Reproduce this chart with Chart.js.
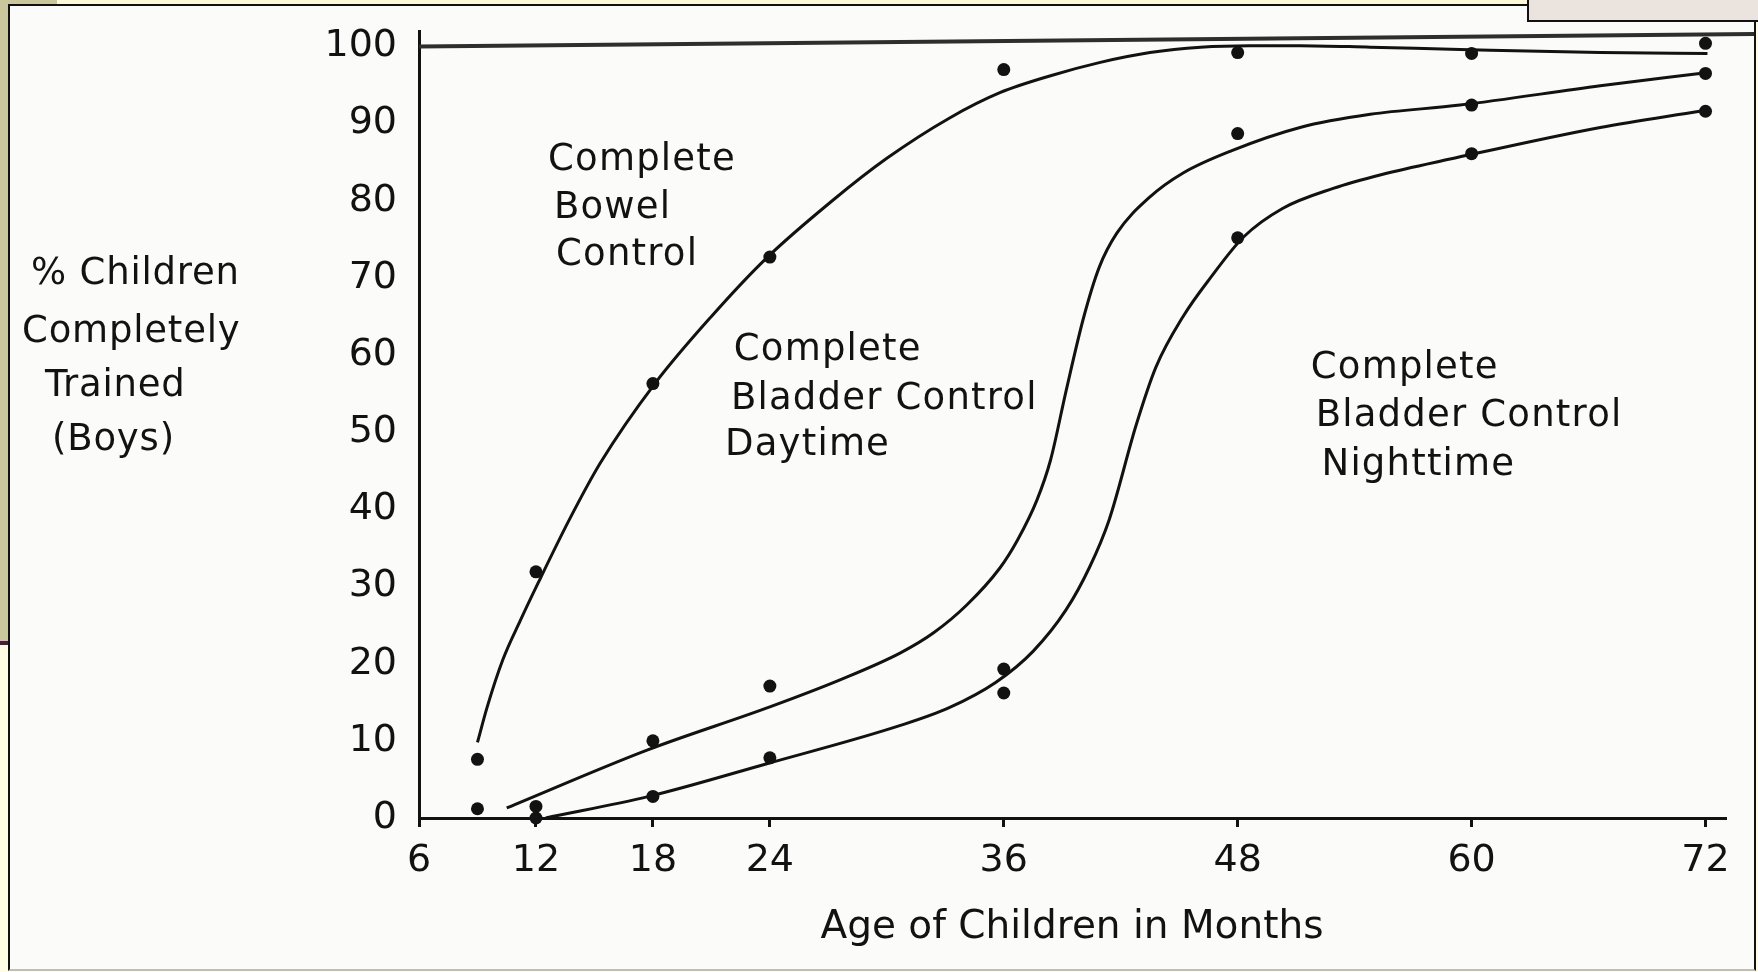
<!DOCTYPE html>
<html lang="en">
<head>
<meta charset="UTF-8">
<title>Toilet Training by Age (Boys)</title>
<script src="https://cdn.jsdelivr.net/npm/chart.js"></script>
<style>
    html, body { margin: 0; padding: 0; }
    body {
        width: 1758px;
        height: 972px;
        position: relative;
        overflow: hidden;
        background: #fffde4;
    }
    .strip { position: absolute; left: 0; top: 0; width: 8px; height: 641px; background: #c9c79b; }
    .strip-line { position: absolute; left: 0; top: 641px; width: 8px; height: 4px; background: #4b1a3e; }
    .corner { position: absolute; left: 0; top: 0; width: 57px; height: 5px; background: #c9c79b; }
    .band { position: absolute; left: 57px; top: 0; width: 1470px; height: 4px; background: #fcf8d8; }
    .sheet {
        position: absolute;
        left: 8px;
        top: 4px;
        width: 1744px;
        height: 963px;
        background: #fbfbf9;
        border-left: 2px solid #111;
        border-top: 2px solid #111;
        border-right: 2px solid #111;
        border-bottom: 2px solid #bdbdbd;
    }
    .tab {
        position: absolute;
        left: 1527px;
        top: 0;
        width: 229px;
        height: 20px;
        background: #ebe4de;
        border-left: 2px solid #111;
        border-bottom: 2px solid #111;
    }
    #trainChart { position: absolute; left: 0; top: 0; }
</style>
</head>
<body>
<div class="strip"></div>
<div class="strip-line"></div>
<div class="corner"></div>
<div class="band"></div>
<div class="sheet"></div>
<div class="tab"></div>
<canvas id="trainChart" width="1758" height="972"></canvas>

<script>
    // axis ticks
    const ageTicks = [6, 12, 18, 24, 36, 48, 60, 72];
    const pctTicks = [0, 10, 20, 30, 40, 50, 60, 70, 80, 90, 100];

    // observed percentages at each age (months)
    const ages = [9, 12, 18, 24, 36, 48, 60, 72];
    const bowelPct = [7.6, 31.9, 56.3, 72.7, 97.0, 99.2, 99.1, 100.4];
    const dayPct = [1.2, 1.5, 10.0, 17.1, 19.3, 88.7, 92.4, 96.5];
    const nightPct = [-1.2, 0, 2.8, 7.8, 16.2, 75.2, 86.1, 91.6];

    // hand-fitted curves
    const bowelFitAge = [9, 9.5, 10.3, 11.2, 12.1, 13.7, 15.3, 18.1, 21, 23.8, 27.2, 30, 33.2, 35.8, 38.4, 40.9, 43.5, 46.1, 48.6, 51.2, 54.8, 59.4, 66.6, 72.1];
    const bowelFitPct = [9.8, 14.4, 20.5, 25.6, 30.4, 38.6, 46.0, 56.3, 65, 72.5, 80, 85.5, 90.7, 94.0, 96.2, 97.9, 99.2, 99.9, 100.1, 100.1, 99.9, 99.6, 99.2, 99.1];

    const dayFitAge = [10.5, 17.7, 24, 27.6, 30.7, 32.4, 34.1, 35.8, 36.7, 37.7, 38.4, 39.2, 40.1, 40.9, 41.8, 43.5, 45.2, 47.7, 51.2, 54.8, 59.4, 66.6, 71.7];
    const dayFitPct = [1.3, 8.8, 14.4, 17.9, 21.4, 24.0, 27.6, 32.4, 36.0, 41.2, 46.4, 55.4, 64.9, 71.4, 75.8, 80.5, 83.6, 86.5, 89.5, 91.2, 92.4, 94.9, 96.5];

    const nightFitAge = [12.5, 17.8, 23.8, 30.7, 33.2, 35.6, 37.5, 39.2, 40.4, 41.4, 42.8, 43.8, 45.2, 46.6, 48.3, 50.3, 52.9, 55.4, 58.9, 66.6, 71.7];
    const nightFitPct = [0, 2.8, 7.0, 12.0, 14.3, 17.6, 21.6, 27.0, 32.5, 38.6, 51.0, 58.4, 65.0, 70.0, 75.3, 79.0, 81.6, 83.4, 85.4, 89.5, 91.6];

    // ruled line across the top of the plot
    const topRuleAge = [6, 74.5];
    const topRulePct = [100, 101.6];

    // curve captions
    const bowelCaption = ['Complete', 'Bowel', 'Control'];
    const dayCaption = ['Complete', 'Bladder Control', 'Daytime'];
    const nightCaption = ['Complete', 'Bladder Control', 'Nighttime'];
    const yCaption = ['% Children', 'Completely', 'Trained', '(Boys)'];

    const FONT = "'DejaVu Sans', sans-serif";
    const INK = '#121212';

    const pts = (xs, ys) => xs.map((x, i) => ({ x: x, y: ys[i] }));

    const curve = (xs, ys) => ({
        data: pts(xs, ys),
        showLine: true,
        borderColor: INK,
        borderWidth: 3,
        pointRadius: 0,
        cubicInterpolationMode: 'monotone',
        clip: false
    });

    const dots = ys => ({
        data: pts(ages, ys),
        showLine: false,
        pointRadius: 6.5,
        pointBackgroundColor: INK,
        pointBorderWidth: 0,
        clip: false
    });

    // text placed inside and beside the plot
    const captions = {
        id: 'captions',
        afterDraw(chart, args, opts) {
            const { ctx, scales: { x, y } } = chart;
            ctx.save();
            ctx.fillStyle = INK;
            ctx.textAlign = 'left';
            ctx.textBaseline = 'middle';
            ctx.font = opts.size + 'px ' + FONT;
            ctx.letterSpacing = opts.spacing + 'px';
            opts.blocks.forEach(b => {
                b.lines.forEach((line, i) => {
                    ctx.fillText(line, x.getPixelForValue(b.at[i][0]), y.getPixelForValue(b.at[i][1]));
                });
            });
            ctx.letterSpacing = opts.side.spacing + 'px';
            opts.side.lines.forEach((line, i) => {
                ctx.fillText(line, opts.side.left[i], y.getPixelForValue(opts.side.at[i]));
            });
            ctx.restore();
        }
    };

    const config = {
        type: 'scatter',
        data: {
            datasets: [
                {
                    data: pts(topRuleAge, topRulePct),
                    showLine: true,
                    borderColor: '#2e2e2e',
                    borderWidth: 4,
                    pointRadius: 0,
                    clip: false
                },
                curve(bowelFitAge, bowelFitPct),
                curve(dayFitAge, dayFitPct),
                curve(nightFitAge, nightFitPct),
                dots(bowelPct),
                dots(dayPct),
                dots(nightPct)
            ]
        },
        options: {
            responsive: false,
            animation: false,
            layout: { padding: { left: 269, right: 33, top: 31, bottom: 0 } },
            plugins: {
                legend: { display: false },
                tooltip: { enabled: false },
                captions: {
                    size: 37,
                    spacing: 1.2,
                    blocks: [
                        { lines: bowelCaption, at: [[12.62, 85.2], [12.92, 79.0], [13.03, 72.9]] },
                        { lines: dayCaption, at: [[22.15, 60.6], [22.0, 54.3], [21.7, 48.3]] },
                        { lines: nightCaption, at: [[51.75, 58.3], [52.0, 52.0], [52.3, 45.7]] }
                    ],
                    side: {
                        lines: yCaption,
                        spacing: 0.8,
                        left: [31, 22, 45, 52],
                        at: [70.4, 63.0, 56.0, 49.0]
                    }
                }
            },
            scales: {
                x: {
                    type: 'linear',
                    min: 6,
                    max: 73,
                    afterBuildTicks: s => { s.ticks = ageTicks.map(v => ({ value: v })); },
                    afterFit: s => { s.height = 154; s.paddingLeft = 0; s.paddingRight = 0; },
                    grid: { drawOnChartArea: false, drawTicks: true, tickLength: 9, color: INK, lineWidth: 3 },
                    border: { display: true, color: INK, width: 3 },
                    ticks: { color: INK, font: { family: FONT, size: 38 }, padding: 11, autoSkip: false, maxRotation: 0 },
                    title: {
                        display: true,
                        text: 'Age of Children in Months',
                        color: INK,
                        font: { family: FONT, size: 39 },
                        padding: { top: 0, bottom: 21 }
                    }
                },
                y: {
                    min: 0,
                    max: 102,
                    afterBuildTicks: s => { s.ticks = pctTicks.map(v => ({ value: v })); },
                    afterFit: s => { s.width = 150; s.paddingTop = 0; s.paddingBottom = 0; },
                    grid: { drawOnChartArea: false, drawTicks: false },
                    border: { display: true, color: INK, width: 3 },
                    ticks: { color: INK, font: { family: FONT, size: 38 }, padding: 22 }
                }
            }
        },
        plugins: [captions]
    };

    new Chart(document.getElementById('trainChart'), config);
</script>
</body>
</html>
